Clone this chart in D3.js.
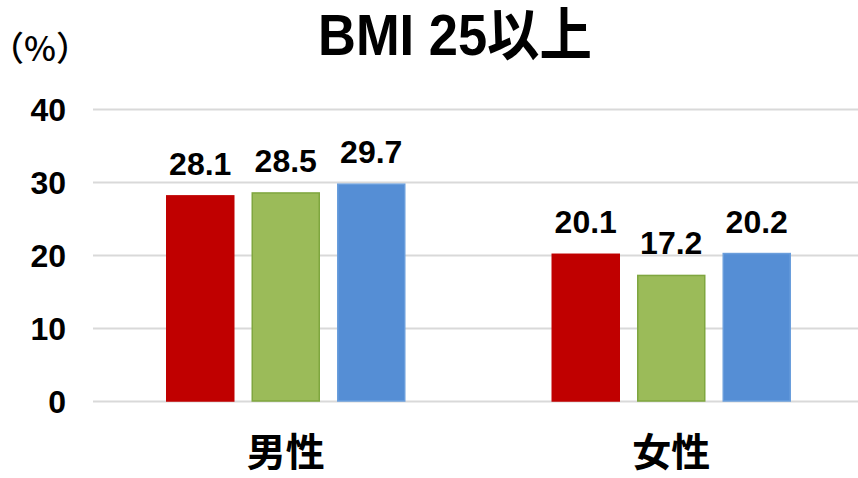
<!DOCTYPE html>
<html><head><meta charset="utf-8">
<script src="https://cdn.jsdelivr.net/npm/d3@7"></script>
<style>body{margin:0;background:#fff}svg{display:block}</style>
</head><body>
<script>
const categories = ["男性", "女性"];
const series1 = [28.1, 20.1];
const series2 = [28.5, 17.2];
const series3 = [29.7, 20.2];
const yTicks = [0, 10, 20, 30, 40];
const title = "BMI 25以上";
const unitLabel = "（%）";

const colors = ["#C00000", "#9BBB59", "#558ED5"];
const strokes = ["#C00000", "#7FA63F", "#6A9EDC"];
const W = 858, H = 478;
const svg = d3.select("body").append("svg").attr("width", W).attr("height", H);

const x0 = d3.scaleBand().domain(categories).range([93, 864]).paddingInner(0).paddingOuter(0);
const y = d3.scaleLinear().domain([0, 40]).range([401, 109]);
const allSeries = [series1, series2, series3];

// gridlines
svg.append("g").selectAll("line").data(yTicks).join("line")
  .attr("x1", 93).attr("x2", 858)
  .attr("y1", d => Math.round(y(d)) + 0.5).attr("y2", d => Math.round(y(d)) + 0.5)
  .attr("stroke", "#d9d9d9").attr("stroke-width", 2);

// y tick labels
svg.append("g").selectAll("text").data(yTicks).join("text")
  .attr("x", 66).attr("y", d => y(d) + 12)
  .attr("text-anchor", "end")
  .attr("font-family", "'Liberation Sans', Arial, sans-serif")
  .attr("font-size", 32).attr("font-weight", "bold")
  .text(d => d);

const barW = 67, gap = 18.5;
categories.forEach((c, ci) => {
  const cx = x0(c) + x0.bandwidth() / 2;
  allSeries.forEach((s, si) => {
    const bx = cx + (si - 1) * (barW + gap) - barW / 2;
    const v = s[ci];
    svg.append("rect")
      .attr("x", bx).attr("y", y(v))
      .attr("width", barW).attr("height", y(0) - y(v))
      .attr("fill", colors[si])
      .attr("stroke", strokes[si]).attr("stroke-width", 1.5);
    svg.append("text")
      .attr("x", bx + barW / 2).attr("y", y(v) - 21)
      .attr("text-anchor", "middle")
      .attr("font-family", "'Liberation Sans', Arial, sans-serif")
      .attr("font-size", 32).attr("font-weight", "bold")
      .text(v.toFixed(1));
  });
  svg.append("text")
    .attr("x", cx).attr("y", 466)
    .attr("text-anchor", "middle")
    .attr("font-family", "'Noto Sans CJK JP', sans-serif")
    .attr("font-size", 39).attr("font-weight", "bold")
    .text(c);
});

// title
svg.append("text")
  .attr("x", 318).attr("y", 55)
  .attr("font-family", "'Liberation Sans', Arial, 'Noto Sans CJK JP', sans-serif")
  .attr("font-size", 57).attr("font-weight", "bold")
  .attr("textLength", 274).attr("lengthAdjust", "spacingAndGlyphs")
  .text(title);

// unit
svg.append("text")
  .attr("x", 7).attr("y", 61)
  .attr("font-family", "'Noto Sans CJK JP', sans-serif")
  .attr("font-size", 34).attr("font-weight", "500")
  .style("font-feature-settings", "'halt'")
  .text(unitLabel);
</script>
</body></html>
